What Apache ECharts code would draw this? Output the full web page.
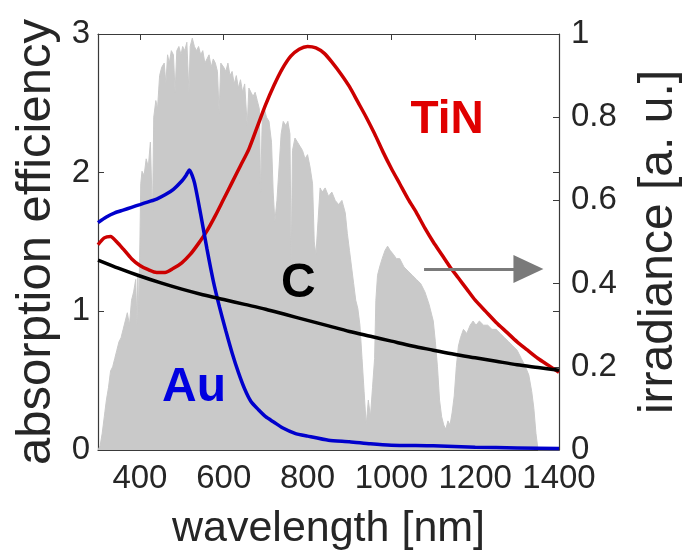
<!DOCTYPE html>
<html>
<head>
<meta charset="utf-8">
<script src="https://cdn.jsdelivr.net/npm/echarts@6/dist/echarts.min.js"></script>
<style>
html,body{margin:0;padding:0;background:#fff;}
#chart{width:691px;height:557px;}
</style>
</head>
<body>
<div id="chart"></div>
<script>
// ---- data ----
const xTicks = [400, 600, 800, 1000, 1200, 1400];

// solar irradiance (right axis, a.u.) : [wavelength, value]
const irradiance = [
[300,0],[305,0.01],[310,0.04],[315,0.08],[320,0.12],[325,0.15],[330,0.19],[335,0.2],[340,0.22],[345,0.24],
[350,0.26],[355,0.27],[360,0.29],[365,0.31],[370,0.33],[375,0.3],[380,0.36],[385,0.38],[390,0.41],[393,0.3],
[395,0.42],[397,0.33],[400,0.5],[402,0.64],[405,0.67],[410,0.66],[415,0.7],[420,0.68],[425,0.74],[430,0.56],
[433,0.8],[438,0.84],[442,0.82],[447,0.9],[452,0.92],[458,0.93],[462,0.88],[466,0.95],[470,0.93],[475,0.96],
[480,0.95],[484,0.86],[488,0.96],[493,0.97],[498,0.95],[502,0.97],[507,0.96],[512,0.98],[517,0.86],[520,0.97],
[525,0.99],[530,0.97],[535,0.96],[540,0.97],[545,0.95],[550,0.96],[555,0.93],[560,0.94],[565,0.95],[570,0.92],
[575,0.94],[580,0.93],[585,0.91],[589,0.81],[593,0.93],[600,0.92],[605,0.91],[610,0.93],[615,0.9],[620,0.91],
[625,0.88],[630,0.9],[635,0.87],[640,0.89],[645,0.86],[650,0.88],[656,0.78],[660,0.87],[665,0.86],[670,0.85],
[675,0.86],[680,0.84],[685,0.82],[688,0.62],[692,0.8],[697,0.82],[702,0.8],[708,0.79],[714,0.74],[718,0.62],
[722,0.55],[727,0.6],[732,0.68],[737,0.76],[742,0.79],[748,0.78],[753,0.79],[758,0.76],[761,0.45],[764,0.72],
[770,0.75],[776,0.74],[782,0.73],[788,0.72],[794,0.7],[800,0.71],[806,0.68],[812,0.64],[816,0.5],[820,0.47],
[825,0.55],[830,0.63],[835,0.62],[842,0.63],[850,0.61],[858,0.62],[866,0.6],[874,0.59],[882,0.6],[890,0.57],
[895,0.52],[900,0.48],[905,0.44],[910,0.4],[915,0.36],[920,0.34],[925,0.3],[930,0.22],[935,0.14],[940,0.06],
[945,0.12],[950,0.08],[955,0.15],[960,0.22],[963,0.36],[967,0.42],[972,0.44],[978,0.46],[985,0.48],[991,0.49],
[997,0.48],[1005,0.47],[1012,0.46],[1020,0.46],[1030,0.44],[1040,0.43],[1050,0.42],[1060,0.41],[1070,0.4],[1080,0.38],
[1090,0.35],[1100,0.31],[1105,0.26],[1110,0.2],[1115,0.12],[1120,0.08],[1125,0.06],[1130,0.05],[1135,0.07],[1140,0.06],
[1145,0.09],[1150,0.13],[1155,0.2],[1160,0.25],[1165,0.27],[1172,0.29],[1180,0.28],[1188,0.3],[1195,0.31],[1202,0.3],
[1210,0.31],[1220,0.3],[1230,0.3],[1240,0.29],[1250,0.29],[1260,0.28],[1270,0.27],[1280,0.26],[1290,0.25],[1300,0.24],
[1310,0.22],[1320,0.2],[1328,0.18],[1335,0.14],[1340,0.1],[1345,0.04],[1350,0],[1400,0]
];

// absorption efficiency (left axis)
const tin = [
[300,1.48],[315,1.53],[330,1.54],[345,1.5],[360,1.45],[380,1.38],[400,1.33],[420,1.3],[440,1.28],[460,1.28],
[480,1.31],[500,1.35],[520,1.41],[540,1.49],[560,1.58],[580,1.69],[600,1.81],[620,1.93],[640,2.05],[660,2.17],
[680,2.33],[700,2.49],[720,2.63],[740,2.75],[760,2.84],[780,2.89],[800,2.91],[820,2.9],[840,2.86],[860,2.79],
[880,2.71],[900,2.62],[920,2.51],[940,2.4],[960,2.28],[980,2.15],[1000,2.03],[1020,1.92],[1040,1.81],[1060,1.71],
[1080,1.6],[1100,1.5],[1120,1.41],[1140,1.32],[1160,1.24],[1180,1.16],[1200,1.08],[1225,1.0],[1250,0.92],[1275,0.85],
[1300,0.78],[1325,0.72],[1350,0.66],[1375,0.61],[1400,0.56]
];
const au = [
[300,1.64],[320,1.68],[340,1.71],[360,1.73],[380,1.75],[400,1.77],[420,1.79],[440,1.81],[460,1.84],[480,1.88],
[500,1.94],[510,1.98],[518,2.02],[530,1.93],[545,1.7],[560,1.45],[575,1.22],[590,1.03],[605,0.86],[620,0.7],
[635,0.56],[650,0.44],[665,0.35],[683,0.29],[700,0.24],[720,0.2],[740,0.16],[770,0.12],[800,0.1],[850,0.07],
[900,0.06],[950,0.045],[1000,0.035],[1100,0.03],[1200,0.02],[1300,0.015],[1400,0.01]
];
const carbon = [
[300,1.37],[350,1.31],[400,1.255],[450,1.205],[500,1.16],[550,1.12],[600,1.085],[650,1.05],[700,1.015],[750,0.975],
[800,0.935],[850,0.895],[900,0.855],[950,0.82],[1000,0.785],[1050,0.75],[1100,0.72],[1150,0.69],[1200,0.665],[1250,0.64],
[1300,0.615],[1350,0.595],[1400,0.575]
];

// ---- chart ----
const FONT = '"Liberation Sans", Arial, Helvetica, sans-serif';
const AX = '#3a3a3a';
const TXT = '#262626';
const chart = echarts.init(document.getElementById('chart'), null, {renderer: 'canvas'});

const tickStyle = {show: true, inside: true, length: 6, lineStyle: {color: AX, width: 1}};
const plain = v => String(v);

chart.setOption({
  animation: false,
  backgroundColor: '#fff',
  grid: {left: 98, right: 128, top: 34, bottom: 107, containLabel: false},
  xAxis: [
    {
      type: 'value', min: 300, max: 1400, position: 'bottom',
      name: 'wavelength [nm]', nameLocation: 'middle', nameGap: 58,
      nameTextStyle: {fontFamily: FONT, fontSize: 43, color: TXT},
      axisLine: {show: true, onZero: false, lineStyle: {color: AX, width: 1.2}},
      axisTick: Object.assign({}, tickStyle, {customValues: xTicks}),
      axisLabel: {customValues: xTicks, formatter: plain, fontFamily: FONT, fontSize: 33, color: TXT, margin: 12},
      splitLine: {show: false}
    },
    {
      type: 'value', min: 300, max: 1400, position: 'top',
      axisLine: {show: true, onZero: false, lineStyle: {color: AX, width: 1.2}},
      axisTick: Object.assign({}, tickStyle, {customValues: xTicks}),
      axisLabel: {show: false},
      splitLine: {show: false}
    }
  ],
  yAxis: [
    {
      type: 'value', min: 0, max: 3, interval: 1, position: 'left',
      name: 'absorption efficiency', nameLocation: 'middle', nameGap: 22, nameRotate: 90,
      nameTextStyle: {fontFamily: FONT, fontSize: 49, color: TXT},
      axisLine: {show: true, onZero: false, lineStyle: {color: AX, width: 1.2}},
      axisTick: tickStyle,
      axisLabel: {formatter: plain, fontFamily: FONT, fontSize: 33, color: TXT, margin: 8},
      splitLine: {show: false}
    },
    {
      type: 'value', min: 0, max: 1, interval: 0.2, position: 'right',
      name: 'irradiance [a. u.]', nameLocation: 'middle', nameGap: 76, nameRotate: 90,
      nameTextStyle: {fontFamily: FONT, fontSize: 48, color: TXT},
      axisLine: {show: true, onZero: false, lineStyle: {color: AX, width: 1.2}},
      axisTick: tickStyle,
      axisLabel: {formatter: plain, fontFamily: FONT, fontSize: 33, color: TXT, margin: 12},
      splitLine: {show: false}
    },
    {
      type: 'value', min: 0, max: 3, interval: 1, position: 'right',
      axisLine: {show: false},
      axisTick: tickStyle,
      axisLabel: {show: false},
      splitLine: {show: false}
    }
  ],
  series: [
    {
      name: 'irradiance', type: 'line', xAxisIndex: 0, yAxisIndex: 1,
      data: irradiance, showSymbol: false, z: 1,
      lineStyle: {color: '#c9c9c9', width: 1},
      areaStyle: {color: '#c9c9c9', opacity: 1},
      silent: true,
      markLine: {
        silent: true, symbol: ['none', 'triangle'], symbolSize: [28, 30],
        lineStyle: {color: '#7a7a7a', width: 3, type: 'solid'},
        itemStyle: {color: '#7a7a7a'},
        label: {show: false},
        data: [[{coord: [1078, 0.435]}, {coord: [1327, 0.435]}]]
      }
    },
    {
      name: 'TiN', type: 'line', xAxisIndex: 0, yAxisIndex: 0,
      data: tin, showSymbol: false, smooth: 0.25, z: 3,
      lineStyle: {color: '#cc0000', width: 3.5},
      markPoint: {
        symbol: 'circle', symbolSize: 1, itemStyle: {color: 'rgba(0,0,0,0)'},
        label: {show: true, position: 'inside', formatter: 'TiN', fontFamily: FONT, fontSize: 46, fontWeight: 'bold', color: '#e00000'},
        data: [{coord: [1133, 2.38]}]
      }
    },
    {
      name: 'Au', type: 'line', xAxisIndex: 0, yAxisIndex: 0,
      data: au, showSymbol: false, smooth: 0.2, z: 4,
      lineStyle: {color: '#0000cc', width: 3.5},
      markPoint: {
        symbol: 'circle', symbolSize: 1, itemStyle: {color: 'rgba(0,0,0,0)'},
        label: {show: true, position: 'inside', formatter: 'Au', fontFamily: FONT, fontSize: 48, fontWeight: 'bold', color: '#0000e0'},
        data: [{coord: [529, 0.45]}]
      }
    },
    {
      name: 'C', type: 'line', xAxisIndex: 0, yAxisIndex: 0,
      data: carbon, showSymbol: false, smooth: 0.3, z: 5,
      lineStyle: {color: '#000000', width: 3.5},
      markPoint: {
        symbol: 'circle', symbolSize: 1, itemStyle: {color: 'rgba(0,0,0,0)'},
        label: {show: true, position: 'inside', formatter: 'C', fontFamily: FONT, fontSize: 48, fontWeight: 'bold', color: '#000000'},
        data: [{coord: [778, 1.2]}]
      }
    }
  ]
});
</script>
</body>
</html>
